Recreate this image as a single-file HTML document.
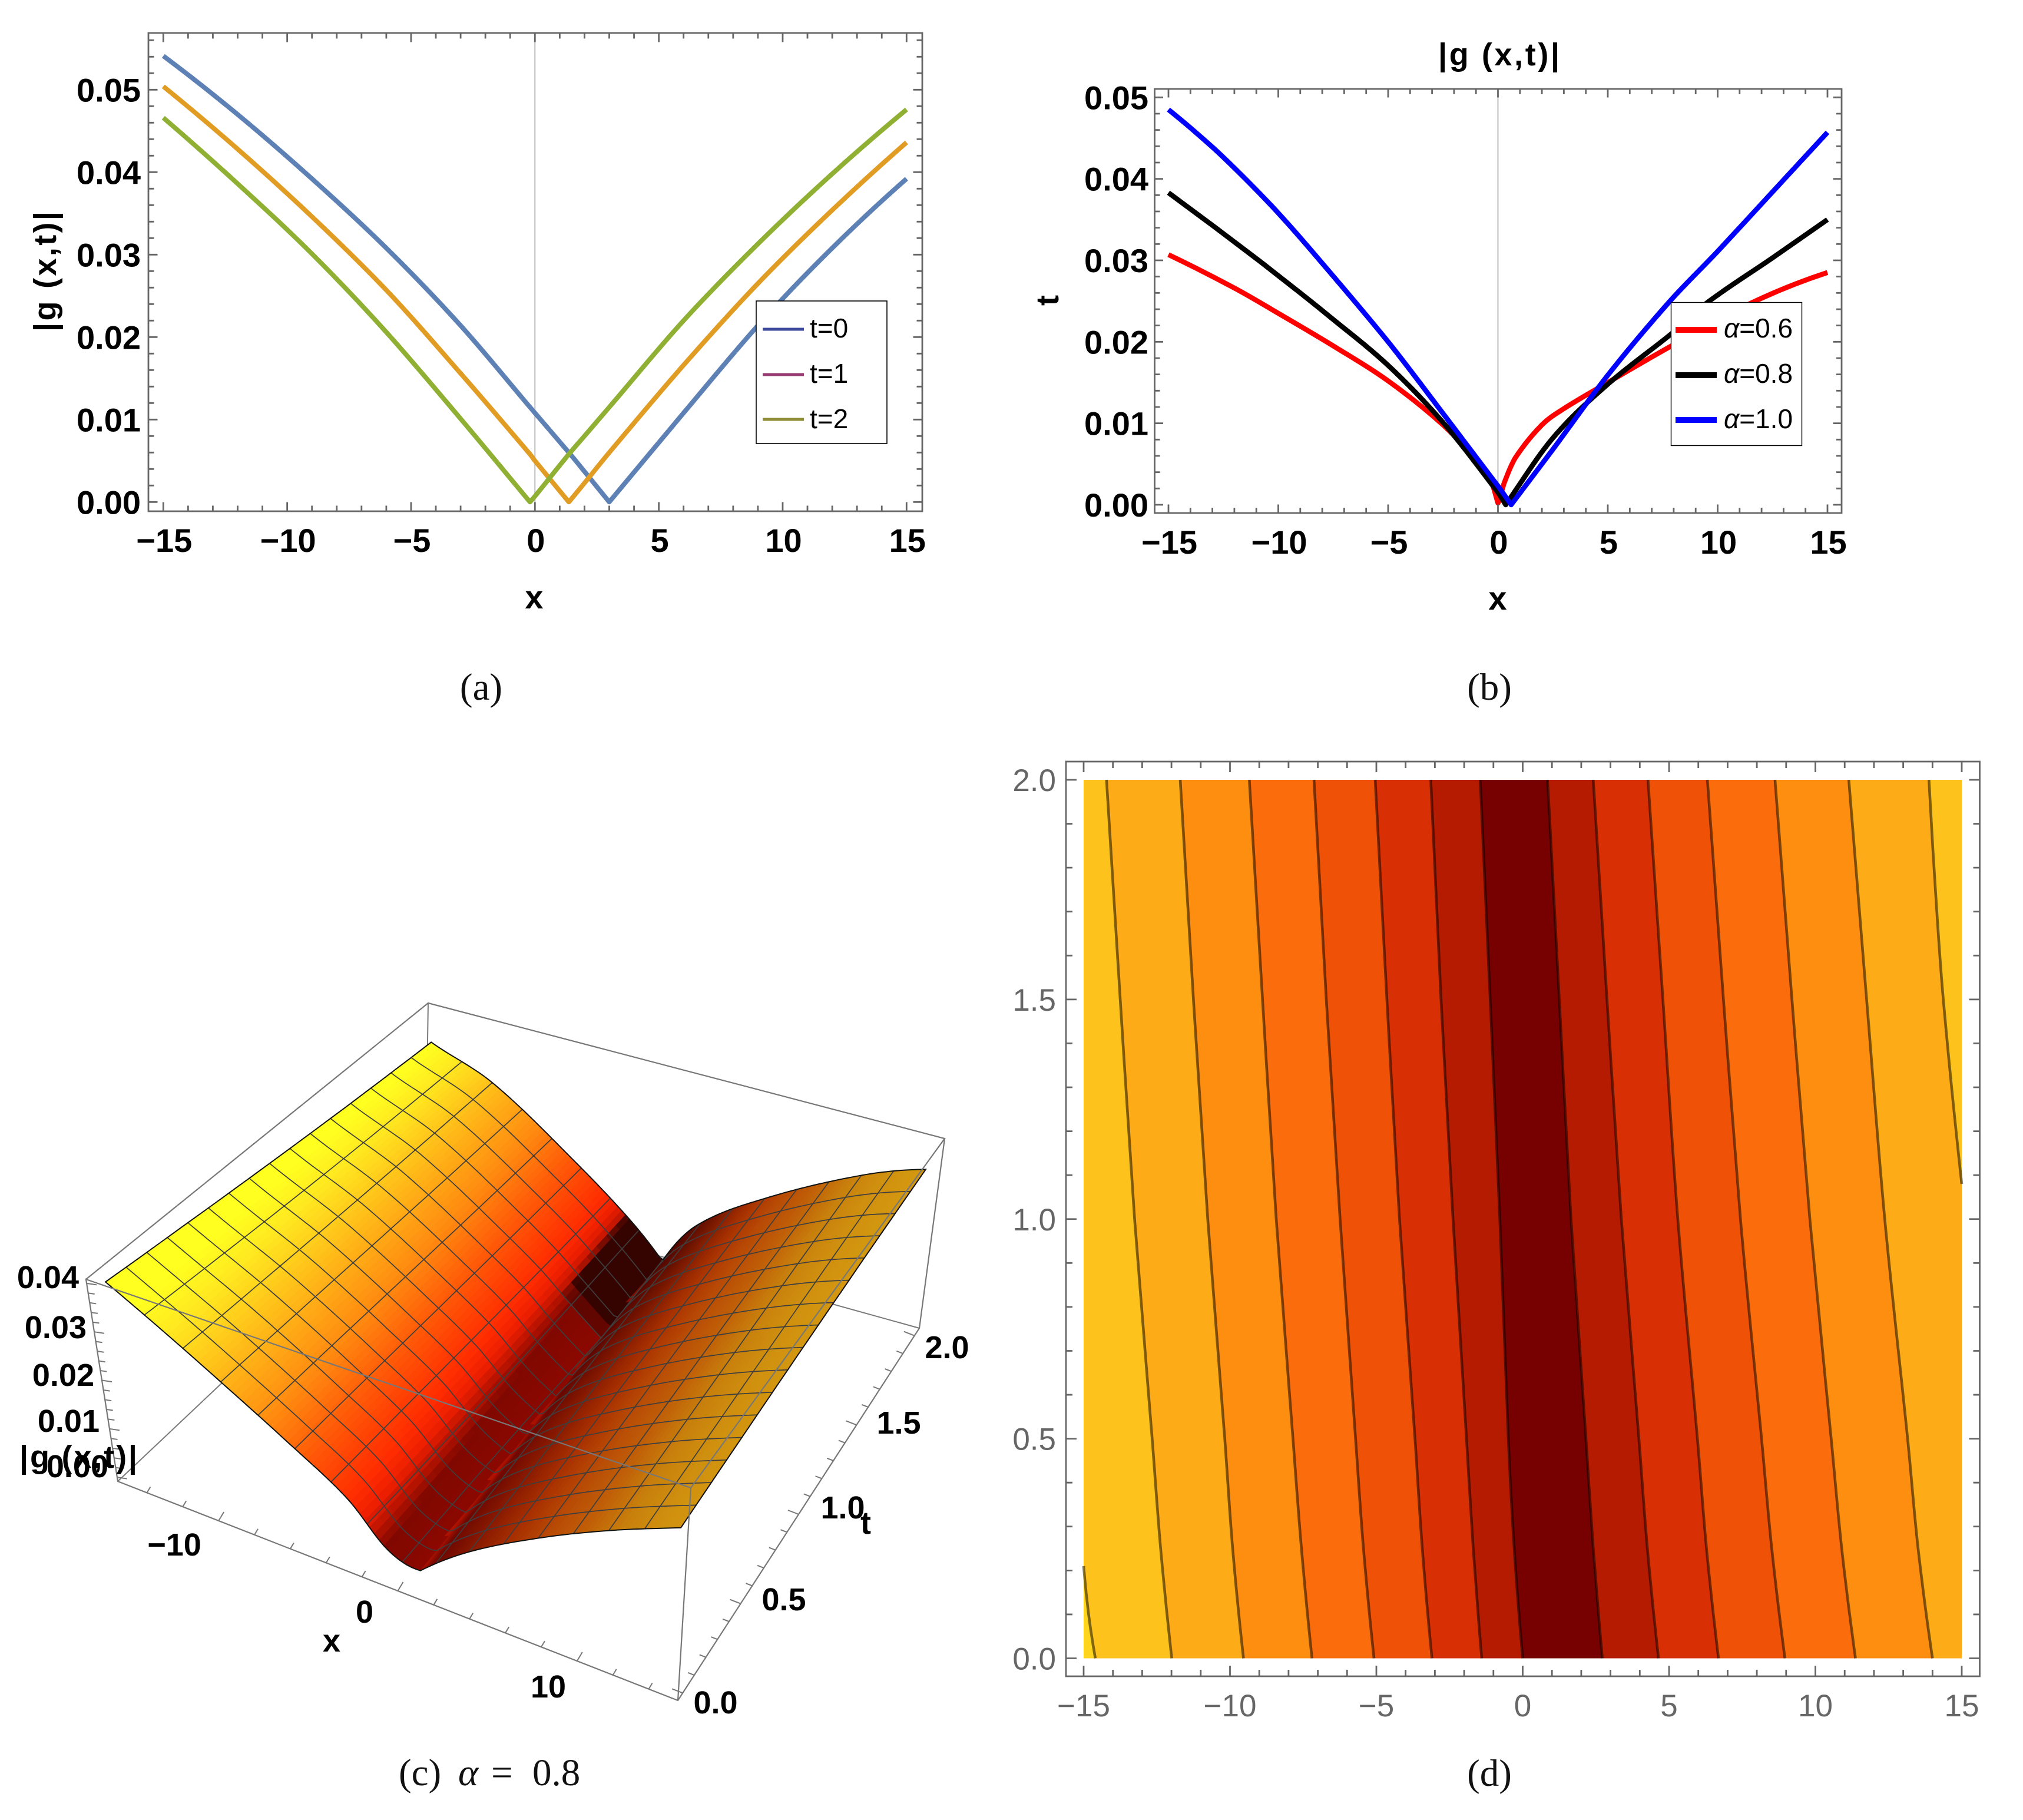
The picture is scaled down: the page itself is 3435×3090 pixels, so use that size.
<!DOCTYPE html>
<html lang="en">
<head>
<meta charset="utf-8">
<title>Four-panel plot of |g(x,t)|</title>
<style>
html,body{margin:0;padding:0;background:#fff;}
svg{display:block;}
text{font-family:"Liberation Sans",Arial,sans-serif;}
.bold{font-weight:700;fill:#000;}
.cap{font-family:"Liberation Serif",serif;font-size:65px;fill:#111;}
.leg{font-size:46px;fill:#000;}
.lab3d{font-weight:700;font-size:54px;fill:#000;}
</style>
</head>
<body>
<svg id="figure" xmlns="http://www.w3.org/2000/svg" width="3435" height="3090" viewBox="0 0 3435 3090">
  <rect width="3435" height="3090" fill="#fff"/>

  <g id="panel-a">
    <g id="a-plot"></g>
    <text class="bold" x="907" y="1033" font-size="56" text-anchor="middle">x</text>
    <text class="bold" transform="translate(95,461) rotate(-90)" font-size="54" text-anchor="middle" textLength="204" lengthAdjust="spacing">|g (x,t)|</text>
    <g>
      <rect x="1284" y="511" width="222" height="242" fill="#fff" stroke="#000" stroke-width="1.6"/>
      <line x1="1295" x2="1365" y1="559" y2="559" stroke="#3e4a9e" stroke-width="5"/>
      <line x1="1295" x2="1365" y1="636" y2="636" stroke="#973a72" stroke-width="5"/>
      <line x1="1295" x2="1365" y1="712" y2="712" stroke="#8d8b35" stroke-width="5"/>
      <text class="leg" x="1375" y="573">t=0</text>
      <text class="leg" x="1375" y="650">t=1</text>
      <text class="leg" x="1375" y="727">t=2</text>
    </g>
    <text class="cap" x="817" y="1188" text-anchor="middle">(a)</text>
  </g>

  <g id="panel-b">
    <g id="b-plot"></g>
    <text class="bold" x="2545" y="111" font-size="54" text-anchor="middle" textLength="206" lengthAdjust="spacing">|g (x,t)|</text>
    <text class="bold" x="2543" y="1035" font-size="56" text-anchor="middle">x</text>
    <text class="bold" transform="translate(1797,510) rotate(-90)" font-size="54" text-anchor="middle">t</text>
    <g>
      <rect x="2837.5" y="513.5" width="222" height="243" fill="#fff" stroke="#000" stroke-width="1.4"/>
      <line x1="2845" x2="2915" y1="560" y2="560" stroke="#f00" stroke-width="10"/>
      <line x1="2845" x2="2915" y1="637" y2="637" stroke="#000" stroke-width="10"/>
      <line x1="2845" x2="2915" y1="713" y2="713" stroke="#00f" stroke-width="10"/>
      <text class="leg" x="2927" y="573"><tspan font-style="italic">α</tspan>=0.6</text>
      <text class="leg" x="2927" y="650"><tspan font-style="italic">α</tspan>=0.8</text>
      <text class="leg" x="2927" y="727"><tspan font-style="italic">α</tspan>=1.0</text>
    </g>
    <text class="cap" x="2529" y="1188" text-anchor="middle">(b)</text>
  </g>

  <g id="panel-c">
    <g id="c-back"></g>
    <g id="c-surface"></g>
    <g id="c-mesh"></g>
    <g id="c-front"></g>
    <g>
      <text class="lab3d" x="134" y="2187" text-anchor="end">0.04</text>
      <text class="lab3d" x="147" y="2272" text-anchor="end">0.03</text>
      <text class="lab3d" x="160" y="2353" text-anchor="end">0.02</text>
      <text class="lab3d" x="169" y="2431" text-anchor="end">0.01</text>
      <text class="lab3d" x="184" y="2508" text-anchor="end">0.00</text>
    </g>
    <text class="lab3d" x="33" y="2492" textLength="200" lengthAdjust="spacing">|g (x,t)|</text>
    <g>
      <text class="lab3d" x="296" y="2641" text-anchor="middle">−10</text>
      <text class="lab3d" x="619" y="2755" text-anchor="middle">0</text>
      <text class="lab3d" x="931" y="2882" text-anchor="middle">10</text>
    </g>
    <text class="lab3d" x="563" y="2804" text-anchor="middle">x</text>
    <g>
      <text class="lab3d" x="1608" y="2306" text-anchor="middle">2.0</text>
      <text class="lab3d" x="1526" y="2434" text-anchor="middle">1.5</text>
      <text class="lab3d" x="1431" y="2578" text-anchor="middle">1.0</text>
      <text class="lab3d" x="1331" y="2734" text-anchor="middle">0.5</text>
      <text class="lab3d" x="1215" y="2909" text-anchor="middle">0.0</text>
    </g>
    <text class="lab3d" x="1470" y="2604" text-anchor="middle">t</text>
    <g>
      <text class="cap" x="677" y="3031">(c)</text>
      <text class="cap" x="778" y="3031" font-style="italic">α</text>
      <text class="cap" x="834" y="3031">=</text>
      <text class="cap" x="904" y="3031">0.8</text>
    </g>
  </g>

  <g id="panel-d">
    <g id="d-plot"></g>
    <text class="cap" x="2529" y="3032" text-anchor="middle">(d)</text>
  </g>
</svg>

<script>
/* ---------- panel (a) data ---------- */
var aX      = [-15, -12, -9, -6, -3, -0.2, 0, 1.37, 2, 3, 6, 9, 12, 15];
var aSeriesT0 = [0.0541, 0.0470, 0.0392, 0.0308, 0.0214, 0.0115, 0.0108, 0.0060, 0.0037, 0, 0.0108, 0.0214, 0.0308, 0.0392];
var aSeriesT1 = [0.0504, 0.0428, 0.0346, 0.0257, 0.0156, 0.0058, 0.0050, 0, 0.0023, 0.0060, 0.0166, 0.0265, 0.0354, 0.0436];
var aSeriesT2 = [0.0466, 0.0386, 0.0301, 0.0206, 0.0101, 0, 0.0007, 0.0058, 0.0080, 0.0115, 0.0220, 0.0313, 0.0398, 0.0476];
var aXTickLabels = ['−15', '−10', '−5', '0', '5', '10', '15'];
var aYTickLabels = ['0.00', '0.01', '0.02', '0.03', '0.04', '0.05'];

/* ---------- panel (b) data ---------- */
var bBlueX  = [-15, -13, -11.5, -10, -8.27, -5, -2.5, 0, 0.6, 2.5, 5, 7.8, 10, 12.5, 15];
var bBlueY  = [0.0485, 0.0439, 0.0400, 0.0358, 0.0305, 0.0200, 0.0112, 0.0023, 0, 0.0068, 0.0159, 0.0249, 0.0311, 0.0384, 0.0457];
var bBlackX = [-15, -13, -10.8, -9, -7.8, -5, -2.5, 0, 0.35, 2.5, 5, 7.9, 9.57, 12.5, 15];
var bBlackY = [0.0383, 0.0343, 0.0298, 0.0260, 0.0234, 0.0171, 0.0101, 0.0015, 0, 0.0082, 0.0148, 0.0210, 0.0249, 0.0303, 0.0350];
var bRedX   = [-15, -12, -10, -7.5, -5, -2.5, -1, -0.3, 0, 0.05, 0.3, 0.8, 2, 3, 5, 7.9, 11.64, 15];
var bRedY   = [0.0307, 0.0266, 0.0235, 0.0195, 0.0152, 0.0098, 0.0055, 0.0028, 0.0002, 0.0005, 0.0028, 0.0058, 0.0098, 0.0118, 0.0150, 0.0195, 0.0249, 0.0285];
var bXTickLabels = ['−15', '−10', '−5', '0', '5', '10', '15'];
var bYTickLabels = ['0.00', '0.01', '0.02', '0.03', '0.04', '0.05'];

/* ---------- panel (c) data ---------- */
var cLeftOffsetsT0  = [0, 1.8, 3.9, 7, 10.2, 13, 16];
var cLeftHeightsT0  = [0.0033, 0.0050, 0.0124, 0.0196, 0.0268, 0.0332, 0.0400];
var cRightOffsetsT0 = [0, 2.8, 6.65, 10.4, 14, 16];
var cRightHeightsT0 = [0.0033, 0.0110, 0.0190, 0.0255, 0.0308, 0.0336];
var cLeftOffsetsT2  = [0, 2.1, 5.76, 10.95, 14.7, 17];
var cLeftHeightsT2  = [0, 0.0068, 0.0164, 0.0287, 0.0340, 0.0385];
var cRightOffsetsT2 = [0, 1.9, 5.9, 11.5, 15.3];
var cRightHeightsT2 = [0, 0.0096, 0.0195, 0.0300, 0.0350];
var cTimes   = [0, 0.5, 1, 1.5, 2];
var cValleyX = [1.0, 0.7, 0.35, 0, -0.3];

/* ---------- panel (d) data ---------- */
var dTimes  = [0, 0.25, 0.5, 1, 1.5, 2];
var dLine2  = [-11.99, -12.37, -12.66, -13.26, -13.75, -14.22];
var dLine3  = [-9.54, -9.91, -10.18, -10.76, -11.25, -11.70];
var dLine4  = [-7.20, -7.56, -7.85, -8.42, -8.89, -9.34];
var dLine5  = [-5.08, -5.44, -5.71, -6.24, -6.71, -7.13];
var dLine6  = [-3.10, -3.43, -3.68, -4.21, -4.64, -5.04];
var dLine7  = [-1.40, -1.69, -1.92, -2.38, -2.79, -3.14];
var dLine8  = [0, -0.29, -0.49, -0.78, -1.11, -1.45];
var dLine9  = [2.72, 2.41, 2.16, 1.65, 1.25, 0.85];
var dLine10 = [4.64, 4.26, 3.97, 3.37, 2.88, 2.41];
var dLine11 = [6.69, 6.28, 5.97, 5.30, 4.79, 4.28];
var dLine12 = [8.96, 8.51, 8.16, 7.44, 6.86, 6.31];
var dLine13 = [11.37, 10.90, 10.54, 9.81, 9.20, 8.62];
var dLine14 = [14.0, 13.51, 13.15, 12.37, 11.75, 11.14];
var dEdgeLeftT  = [0, 0.1, 0.21];
var dEdgeLeftX  = [-14.6, -14.83, -15];
var dEdgeRightT = [1.08, 1.5, 1.75, 2];
var dEdgeRightX = [15, 14.37, 14.1, 13.88];
var dXTickLabels = ['−15', '−10', '−5', '0', '5', '10', '15'];
var dYTickLabels = ['0.0', '0.5', '1.0', '1.5', '2.0'];

/* ---------- helpers ---------- */
var NS = 'http://www.w3.org/2000/svg';
function mk(parent, tag, attrs, txt) {
  var e = document.createElementNS(NS, tag);
  for (var k in attrs) e.setAttribute(k, attrs[k]);
  if (txt !== undefined) e.textContent = txt;
  parent.appendChild(e);
  return e;
}
function scale(d0, d1, r0, r1) { return function (v) { return r0 + (v - d0) * (r1 - r0) / (d1 - d0); }; }
function num(label) { return parseFloat(label.replace('−', '-')); }

/* Finite-difference tangents; the end tangents are extrapolated so curvature carries to the ends. */
function tangents(us, vs) {
  var n = us.length, out = [], i;
  for (i = 1; i < n - 1; i++) out[i] = (vs[i + 1] - vs[i - 1]) / (us[i + 1] - us[i - 1]);
  if (n > 2) {
    out[0] = 2 * (vs[1] - vs[0]) / (us[1] - us[0]) - out[1];
    out[n - 1] = 2 * (vs[n - 1] - vs[n - 2]) / (us[n - 1] - us[n - 2]) - out[n - 2];
  } else {
    out[0] = out[1] = (vs[1] - vs[0]) / (us[1] - us[0]);
  }
  return out;
}
function curveCommands(us, vs, toPt, kinks) {
  var n = us.length, tang = tangents(us, vs), i;
  var start = toPt(us[0], vs[0]);
  var d = 'M' + start[0].toFixed(1) + ' ' + start[1].toFixed(1);
  for (i = 0; i < n - 1; i++) {
    var h = us[i + 1] - us[i];
    var m0 = tang[i], m1 = tang[i + 1];
    if (kinks && kinks(i)) m0 = (vs[i + 1] - vs[i]) / h;
    if (kinks && kinks(i + 1)) m1 = (vs[i + 1] - vs[i]) / h;
    var c1 = toPt(us[i] + h / 3, vs[i] + m0 * h / 3);
    var c2 = toPt(us[i + 1] - h / 3, vs[i + 1] - m1 * h / 3);
    var e = toPt(us[i + 1], vs[i + 1]);
    d += 'C' + c1[0].toFixed(1) + ' ' + c1[1].toFixed(1) + ' ' + c2[0].toFixed(1) + ' ' + c2[1].toFixed(1) + ' ' + e[0].toFixed(1) + ' ' + e[1].toFixed(1);
  }
  return d;
}
function seriesPath(xs, ys, sx, sy) {
  function isMin(i) { return i > 0 && i < ys.length - 1 && ys[i] <= ys[i - 1] && ys[i] <= ys[i + 1]; }
  return curveCommands(xs, ys, function (a, b) { return [sx(a), sy(b)]; }, isMin);
}
function contourPath(xs, ts, sx, sy) {
  return curveCommands(ts, xs, function (a, b) { return [sx(b), sy(a)]; }, null);
}

function drawAxes(g, o) {
  var frame = mk(g, 'rect', {x: o.l, y: o.t, width: o.r - o.l, height: o.b - o.t, fill: 'none', stroke: '#666', 'stroke-width': 2.8});
  
  
  var i, v, major, len, t;
  for (i = 0; ; i++) {
    v = o.xMin + i * o.xStep;
    if (v > o.xMax + 1e-9) break;
    major = i % o.xEvery === 0;
    len = major ? o.majorLen : o.minorLen;
    t = mk(g, 'path', {d: 'M' + o.sx(v) + ' ' + o.b + 'v' + (-len) + 'M' + o.sx(v) + ' ' + o.t + 'v' + len, stroke: '#666', 'stroke-width': 2.8, fill: 'none'});
    
    
  }
  for (i = 0; ; i++) {
    v = o.yMin + i * o.yStep;
    if (v > o.yMax + 1e-9) break;
    major = i % o.yEvery === 0;
    len = major ? o.majorLen : o.minorLen;
    t = mk(g, 'path', {d: 'M' + o.l + ' ' + o.sy(v) + 'h' + len + 'M' + o.r + ' ' + o.sy(v) + 'h' + (-len), stroke: '#666', 'stroke-width': 2.8, fill: 'none'});
    
    
  }
  o.xLabels.forEach(function (s) {
    var el = mk(g, 'text', {x: o.sx(num(s)) + o.xLabelDx, y: o.xLabelY, 'font-size': o.fontSize, 'text-anchor': 'middle', 'font-weight': o.weight, fill: o.color}, s);
    
    
  });
  o.yLabels.forEach(function (s) {
    var el = mk(g, 'text', {x: o.yLabelX, y: o.sy(num(s)) + o.yLabelDy, 'font-size': o.fontSize, 'text-anchor': 'end', 'font-weight': o.weight, fill: o.color}, s);
    
    
  });
}

/* ---------- panel (a) ---------- */
(function () {
  var g = document.getElementById('a-plot');
  var sx = scale(-15, 15, 277.3, 1539.3), sy = scale(0, 0.05, 852.3, 152.3);
  var zero = mk(g, 'line', {x1: sx(0), x2: sx(0), y1: 56, y2: 868, stroke: '#b0b0b0', 'stroke-width': 1.8});
  
  
  var s0 = mk(g, 'path', {d: seriesPath(aX, aSeriesT0, sx, sy), fill: 'none', stroke: '#5e81b5', 'stroke-width': 8, 'stroke-linejoin': 'round'});
  
  
  var s1 = mk(g, 'path', {d: seriesPath(aX, aSeriesT1, sx, sy), fill: 'none', stroke: '#e19c24', 'stroke-width': 8, 'stroke-linejoin': 'round'});
  
  
  var s2 = mk(g, 'path', {d: seriesPath(aX, aSeriesT2, sx, sy), fill: 'none', stroke: '#8fb032', 'stroke-width': 8, 'stroke-linejoin': 'round'});
  
  
  drawAxes(g, {l: 252, r: 1566, t: 56, b: 868, sx: sx, sy: sy, xMin: -15, xMax: 15, xStep: 1, xEvery: 5, yMin: 0, yMax: 0.056, yStep: 0.002, yEvery: 5,
    majorLen: 15.5, minorLen: 9.5, xLabels: aXTickLabels, yLabels: aYTickLabels, xLabelY: 937, xLabelDx: 1.5, yLabelX: 239, yLabelDy: 20, fontSize: 56, weight: 700, color: '#000'});
})();

/* ---------- panel (b) ---------- */
(function () {
  var g = document.getElementById('b-plot');
  var sx = scale(-15, 15, 1984, 3103), sy = scale(0, 0.05, 857, 165.3);
  var zero = mk(g, 'line', {x1: sx(0), x2: sx(0), y1: 151, y2: 871, stroke: '#b0b0b0', 'stroke-width': 1.8});
  
  
  var red = mk(g, 'path', {d: seriesPath(bRedX, bRedY, sx, sy), fill: 'none', stroke: '#f00', 'stroke-width': 8.5, 'stroke-linejoin': 'round'});
  
  
  var black = mk(g, 'path', {d: seriesPath(bBlackX, bBlackY, sx, sy), fill: 'none', stroke: '#000', 'stroke-width': 8.5, 'stroke-linejoin': 'round'});
  
  
  var blue = mk(g, 'path', {d: seriesPath(bBlueX, bBlueY, sx, sy), fill: 'none', stroke: '#00f', 'stroke-width': 8.5, 'stroke-linejoin': 'round'});
  
  
  drawAxes(g, {l: 1960.5, r: 3127, t: 151, b: 871, sx: sx, sy: sy, xMin: -15, xMax: 15, xStep: 1, xEvery: 5, yMin: 0, yMax: 0.05, yStep: 0.002, yEvery: 5,
    majorLen: 14.5, minorLen: 9, xLabels: bXTickLabels, yLabels: bYTickLabels, xLabelY: 940, xLabelDx: 1.5, yLabelX: 1950, yLabelDy: 20, fontSize: 56, weight: 700, color: '#000'});
})();

/* ---------- panel (c) ---------- */
(function () {
  var E = [200, 2515], F = [1151, 2887], H = [722, 2022], G = [1561, 2255];
  var C = [146, 2172], D = [1173, 2526], A = [727, 1703], B = [1604, 1933];
  function boxPoint(u, v, w) {
    var out = [];
    for (var i = 0; i < 2; i++) {
      var b0 = E[i] + (F[i] - E[i]) * u, b1 = H[i] + (G[i] - H[i]) * u;
      var t0 = C[i] + (D[i] - C[i]) * u, t1 = A[i] + (B[i] - A[i]) * u;
      var bot = b0 + (b1 - b0) * v, top = t0 + (t1 - t0) * v;
      out.push(bot + (top - bot) * w);
    }
    return out;
  }
  function interp(xs, ys, v) {
    var i = 0;
    while (i < xs.length - 2 && v > xs[i + 1]) i++;
    return ys[i] + (ys[i + 1] - ys[i]) * (v - xs[i]) / (xs[i + 1] - xs[i]);
  }
  function smoothInterp(xs, ys, v) {
    var m = tangents(xs, ys), i = 0;
    while (i < xs.length - 2 && v > xs[i + 1]) i++;
    var h = xs[i + 1] - xs[i], s = (v - xs[i]) / h;
    if (s > 1) return ys[i + 1] + m[i + 1] * (v - xs[i + 1]);
    var s2 = s * s, s3 = s2 * s;
    return (2 * s3 - 3 * s2 + 1) * ys[i] + (s3 - 2 * s2 + s) * h * m[i] + (-2 * s3 + 3 * s2) * ys[i + 1] + (s3 - s2) * h * m[i + 1];
  }
  function valley(t) { return interp(cTimes, cValleyX, t); }
  function height(x, t) {
    var vx = valley(t), d = Math.abs(x - vx), s = t / 2, z0, z2;
    if (x < vx) {
      z0 = smoothInterp(cLeftOffsetsT0, cLeftHeightsT0, d);
      z2 = smoothInterp(cLeftOffsetsT2, cLeftHeightsT2, d);
    } else {
      z0 = smoothInterp(cRightOffsetsT0, cRightHeightsT0, d);
      z2 = smoothInterp(cRightOffsetsT2, cRightHeightsT2, d);
    }
    return z0 * (1 - s) + z2 * s;
  }
  function project(x, t, z) {
    return boxPoint(0.02 + 0.96 * (x + 15) / 30, 0.02 + 0.96 * t / 2, 0.02 + 0.96 * z / 0.04);
  }
  function surf(x, t) { return project(x, t, height(x, t)); }

  var leftStops = [[0, [140, 8, 0]], [1.9, [128, 8, 0]], [3, [235, 30, 0]], [3.7, [255, 44, 0]], [6, [255, 90, 8]], [8, [255, 138, 16]], [10.5, [255, 184, 24]], [13, [255, 232, 32]], [14.6, [255, 255, 32]], [20, [255, 255, 32]]];
  var rightStops = [[0, [176, 18, 0]], [0.8, [110, 8, 0]], [3, [138, 26, 0]], [5, [168, 48, 0]], [7, [184, 74, 5]], [9, [192, 95, 8]], [11, [200, 128, 12]], [13, [208, 144, 15]], [15, [212, 152, 15]], [20, [212, 152, 15]]];
  function ramp(stops, d) {
    var i = 0;
    while (i < stops.length - 2 && d > stops[i + 1][0]) i++;
    var f = (d - stops[i][0]) / (stops[i + 1][0] - stops[i][0]);
    var a = stops[i][1], b = stops[i + 1][1];
    return [a[0] + (b[0] - a[0]) * f, a[1] + (b[1] - a[1]) * f, a[2] + (b[2] - a[2]) * f];
  }
  function smooth(v, a, b) {
    var s = Math.max(0, Math.min(1, (v - a) / (b - a)));
    return s * s * (3 - 2 * s);
  }
  function colourAt(x, t) {
    var vx = valley(t), d = Math.abs(x - vx), c;
    if (x < vx) {
      c = ramp(leftStops, d);
      var k = smooth(t, 1.48, 1.6) * smooth(-d, -2.6, -2.25);
      c = [c[0] + (53 - c[0]) * k, c[1] + (4 - c[1]) * k, c[2] * (1 - k)];
    } else {
      c = ramp(rightStops, d);
      var dim = 1 - 0.28 * smooth(t, 0.6, 2) * smooth(-d, -6, -1);
      c = [c[0] * dim, c[1] * dim, c[2] * dim];
    }
    return 'rgb(' + Math.round(c[0]) + ',' + Math.round(c[1]) + ',' + Math.round(c[2]) + ')';
  }
  function fmt(p) { return p[0].toFixed(1) + ',' + p[1].toFixed(1); }

  var back = document.getElementById('c-back');
  var backEdges = mk(back, 'path', {d: 'M' + E + 'L' + H + 'L' + G + 'M' + H + 'L' + A, fill: 'none', stroke: '#7a7a7a', 'stroke-width': 2});
  
  

  var surface = document.getElementById('c-surface');
  var NX = 120, NT = 28;
  for (var j = NT - 1; j >= 0; j--) {
    for (var i = 0; i < NX; i++) {
      var x0 = -15 + 30 * i / NX, x1 = -15 + 30 * (i + 1) / NX;
      var t0 = 2 * j / NT, t1 = 2 * (j + 1) / NT;
      var col = colourAt((x0 + x1) / 2, (t0 + t1) / 2);
      var cell = mk(surface, 'polygon', {points: [surf(x0, t0), surf(x1, t0), surf(x1, t1), surf(x0, t1)].map(fmt).join(' '), fill: col, stroke: col, 'stroke-width': 0.9});
      
      
    }
  }

  var mesh = document.getElementById('c-mesh');
  var m, n, p;
  for (m = 1; m < 16; m++) {
    p = [];
    for (n = 0; n <= 30; n++) p.push(fmt(surf(-15 + 30 * m / 16, 2 * n / 30)));
    var mx = mk(mesh, 'polyline', {points: p.join(' '), fill: 'none', stroke: '#3e3e3e', 'stroke-width': 1.7});
    
    
  }
  for (m = 1; m < 16; m++) {
    p = [];
    for (n = 0; n <= NX; n++) p.push(fmt(surf(-15 + 30 * n / NX, 2 * m / 16)));
    var mt = mk(mesh, 'polyline', {points: p.join(' '), fill: 'none', stroke: '#3e3e3e', 'stroke-width': 1.7});
    
    
  }
  p = [];
  for (n = 0; n <= NX; n++) p.push(fmt(surf(-15 + 30 * n / NX, 2)));
  for (n = 30; n >= 0; n--) p.push(fmt(surf(15, 2 * n / 30)));
  for (n = NX; n >= 0; n--) p.push(fmt(surf(-15 + 30 * n / NX, 0)));
  for (n = 0; n <= 30; n++) p.push(fmt(surf(-15, 2 * n / 30)));
  var outline = mk(mesh, 'polygon', {points: p.join(' '), fill: 'none', stroke: '#111', 'stroke-width': 2});
  
  

  var front = document.getElementById('c-front');
  var frontEdges = mk(front, 'path', {d: 'M' + C + 'L' + A + 'L' + B + 'L' + D + 'L' + C + 'L' + E + 'L' + F + 'L' + G + 'L' + B + 'M' + D + 'L' + F, fill: 'none', stroke: '#777', 'stroke-width': 2.2});
  
  

  var v, q, r, tick;
  for (v = -14; v <= 14; v += 2) {
    q = boxPoint(0.02 + 0.96 * (v + 15) / 30, 0, 0);
    var majorX = v % 10 === 0;
    r = majorX ? 15 : 10;
    tick = mk(front, 'line', {x1: q[0], y1: q[1], x2: q[0] + r * 0.6, y2: q[1] - r * 1.0, stroke: '#777', 'stroke-width': 2});
    
    
  }
  for (v = 0; v <= 20; v++) {
    q = boxPoint(0, 0, 0.02 + 0.96 * (v * 0.002) / 0.04);
    r = v % 5 === 0 ? 17 : 11;
    tick = mk(front, 'line', {x1: q[0], y1: q[1], x2: q[0] + r, y2: q[1] + r * 0.15, stroke: '#777', 'stroke-width': 2});
    
    
  }
  for (v = 0; v <= 20; v++) {
    q = boxPoint(1, 0.02 + 0.96 * (v * 0.1) / 2, 0);
    r = v % 5 === 0 ? 20 : 12;
    tick = mk(front, 'line', {x1: q[0], y1: q[1], x2: q[0] - r * 0.9, y2: q[1] - r * 0.35, stroke: '#777', 'stroke-width': 2});
    
    
  }
})();

/* ---------- panel (d) ---------- */
(function () {
  var g = document.getElementById('d-plot');
  var sx = scale(-15, 15, 1840, 3331), sy = scale(0, 2, 2815.5, 1324);
  var corner = ' L' + sx(15) + ' ' + sy(2) + ' L' + sx(15) + ' ' + sy(0) + ' Z';
  var base = mk(g, 'rect', {x: sx(-15), y: sy(2), width: sx(15) - sx(-15), height: sy(0) - sy(2), fill: '#fed41c'});
  
  

  var fullLines = [dLine2, dLine3, dLine4, dLine5, dLine6, dLine7, dLine8, dLine9, dLine10, dLine11, dLine12, dLine13, dLine14];
  var fullColours = ['#fdab17', '#fd8e10', '#fb6d0c', '#ef5206', '#d92f04', '#b51b01', '#770000', '#b51b01', '#d92f04', '#ef5206', '#fb6d0c', '#fd8e10', '#fdab17'];

  var band = mk(g, 'path', {d: contourPath(dEdgeLeftX, dEdgeLeftT, sx, sy) + ' L' + sx(-15) + ' ' + sy(2) + corner, fill: '#fec21c'});
  
  
  fullLines.forEach(function (line, i) {
    var poly = mk(g, 'path', {d: contourPath(line, dTimes, sx, sy) + corner, fill: fullColours[i]});
    
    
  });
  var lastBand = mk(g, 'path', {d: contourPath(dEdgeRightX, dEdgeRightT, sx, sy) + ' L' + sx(15) + ' ' + sy(2) + ' Z', fill: '#fec21c'});
  
  

  var leftLine = mk(g, 'path', {d: contourPath(dEdgeLeftX, dEdgeLeftT, sx, sy), fill: 'none', stroke: 'rgba(0,0,0,0.5)', 'stroke-width': 4.6});
  
  
  fullLines.forEach(function (line) {
    var c = mk(g, 'path', {d: contourPath(line, dTimes, sx, sy), fill: 'none', stroke: 'rgba(0,0,0,0.5)', 'stroke-width': 4.6});
    
    
  });
  var rightLine = mk(g, 'path', {d: contourPath(dEdgeRightX, dEdgeRightT, sx, sy), fill: 'none', stroke: 'rgba(0,0,0,0.5)', 'stroke-width': 4.6});
  
  

  drawAxes(g, {l: 1810, r: 3361.5, t: 1293, b: 2846, sx: sx, sy: sy, xMin: -15, xMax: 15, xStep: 1, xEvery: 5, yMin: 0, yMax: 2, yStep: 0.1, yEvery: 5,
    majorLen: 18, minorLen: 11, xLabels: dXTickLabels, yLabels: dYTickLabels, xLabelY: 2914, xLabelDx: 0, yLabelX: 1793, yLabelDy: 19, fontSize: 53, weight: 400, color: '#666'});
})();
</script>
</body>
</html>
